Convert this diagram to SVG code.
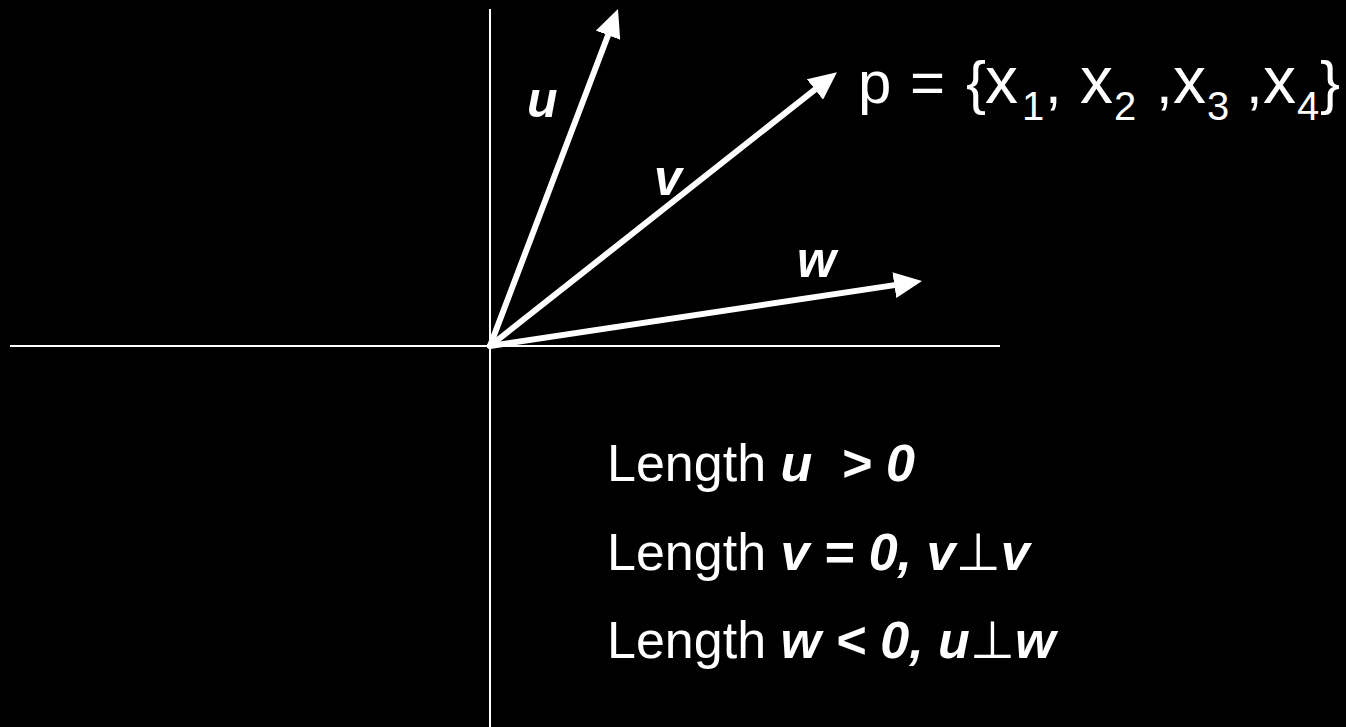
<svg xmlns="http://www.w3.org/2000/svg" width="1346" height="727" viewBox="0 0 1346 727">
<style>
.axis{stroke:#fff;stroke-width:2;fill:none}
.vec{stroke:#fff;stroke-width:6;fill:none;stroke-linecap:round}
.lbl{font-family:"Liberation Sans",Arial,sans-serif;font-weight:bold;font-style:italic;font-size:50px;fill:#fff}
.txt{font-family:"Liberation Sans",Arial,sans-serif;font-size:52px;fill:#fff;white-space:pre}
.bi{font-weight:bold;font-style:italic}
.perp{font-family:"DejaVu Sans",sans-serif;font-weight:normal;font-style:normal}
.ptxt{font-family:"Liberation Sans",Arial,sans-serif;font-size:60px;fill:#fff}
.xx{font-size:66px}
.sub{font-size:40px}
</style>
<defs>
<marker id="ah" markerUnits="userSpaceOnUse" markerWidth="28" markerHeight="26" refX="12" refY="13" orient="auto" viewBox="0 0 28 26">
<path d="M0,0 L28,13 L0,26 z" fill="#fff"/>
</marker>
</defs>
<rect width="1346" height="727" fill="#000"/>
<g id="axes">
<line class="axis" x1="490" y1="9" x2="490" y2="727"/>
<line class="axis" x1="10" y1="346" x2="1000" y2="346"/>
</g>
<g id="connectors">
<line class="vec" x1="490" y1="346" x2="612.3" y2="24" marker-end="url(#ah)"/>
<line class="vec" x1="490" y1="346" x2="824.4" y2="82.1" marker-end="url(#ah)"/>
<line class="vec" x1="490" y1="346" x2="906.2" y2="283.4" marker-end="url(#ah)"/>
</g>
<g id="label-u"><text class="lbl" x="527" y="117">u</text></g>
<g id="label-v"><text class="lbl" x="654" y="195">v</text></g>
<g id="label-w"><text class="lbl" x="797" y="277">w</text></g>
<g id="label-p">
<text class="ptxt" y="103"><tspan x="858">p</tspan><tspan x="910">=</tspan><tspan x="966">{</tspan><tspan class="xx" x="985">x</tspan><tspan class="sub" x="1022" y="120">1</tspan><tspan x="1045" y="103">,</tspan><tspan class="xx" x="1080">x</tspan><tspan class="sub" x="1114" y="120">2</tspan><tspan x="1156" y="103">,</tspan><tspan class="xx" x="1173">x</tspan><tspan class="sub" x="1207" y="120">3</tspan><tspan x="1246" y="103">,</tspan><tspan class="xx" x="1263">x</tspan><tspan class="sub" x="1297" y="120">4</tspan><tspan x="1320" y="103">}</tspan></text>
</g>
<g id="line-u"><text class="txt" x="607" y="481">Length <tspan class="bi">u  &gt; 0</tspan></text></g>
<g id="line-v"><text class="txt" x="607" y="570">Length <tspan class="bi">v = 0, v</tspan><tspan class="perp">⊥</tspan><tspan class="bi">v</tspan></text></g>
<g id="line-w"><text class="txt" x="607" y="658">Length <tspan class="bi">w &lt; 0, u</tspan><tspan class="perp">⊥</tspan><tspan class="bi">w</tspan></text></g>
</svg>
